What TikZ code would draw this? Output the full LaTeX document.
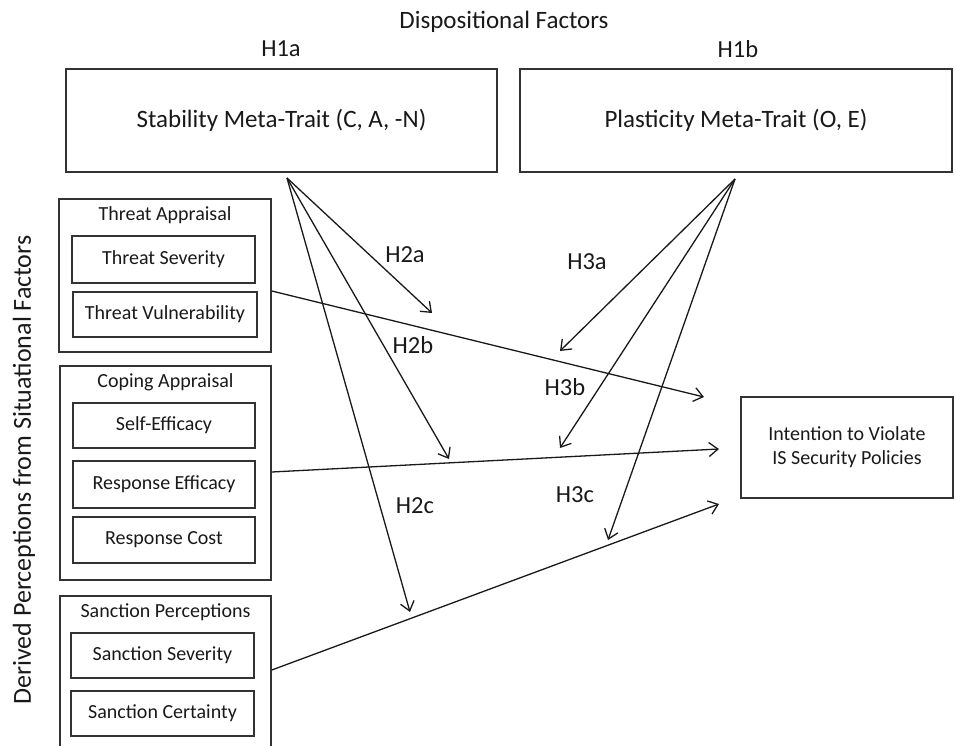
\documentclass[tikz,border=0pt]{standalone}
\usepackage{fontspec}
\setmainfont{Carlito}
\usetikzlibrary{arrows.meta}
\begin{document}
\begin{tikzpicture}[x=1pt,y=-1pt,
  box/.style={draw=black!80,line width=1.6pt,rectangle,inner sep=0pt,anchor=center,text=black!90},
  big/.style={font=\fontsize{25}{29}\selectfont,text=black!90},
  small/.style={font=\fontsize{20}{24}\selectfont,text=black!90},
  conn/.style={draw=black!90,line width=1.3pt,-{Straight Barb[length=9pt,width=14pt,line width=1.3pt]}},
  lbl/.style={font=\fontsize{24.5}{28}\selectfont,inner sep=0pt,text=black!90}
]
\useasboundingbox (0,0) rectangle (956,746);
\clip (0,0) rectangle (956,746);

% top
\node[big] (disp) at (504,22) {Dispositional Factors};
\node[lbl] (h1a) at (281,49) {H1a};
\node[lbl] (h1b) at (738,49) {H1b};
\node[box,big,minimum width=431pt,minimum height=103pt] (stab) at (281.5,120.5) {Stability Meta-Trait (C, A, -N)};
\node[box,big,minimum width=432pt,minimum height=103pt] (plas) at (736,120.5) {Plasticity Meta-Trait (O, E)};

% vertical label
\node[font=\fontsize{26}{30}\selectfont,text=black!90,rotate=90] (vlab) at (24,470) {Derived Perceptions from Situational Factors};

% threat appraisal
\node[box,minimum width=212pt,minimum height=153pt] (thr) at (165,275.5) {};
\node[small] (thrt) at (165,215) {Threat Appraisal};
\node[box,small,minimum width=183pt,minimum height=47pt] (tsev) at (163.5,259.5) {Threat Severity};
\node[box,small,minimum width=184pt,minimum height=45pt] (tvul) at (165,314.5) {Threat Vulnerability};

% coping appraisal
\node[box,minimum width=211pt,minimum height=214pt] (cop) at (165.5,473) {};
\node[small] (copt) at (165.5,382) {Coping Appraisal};
\node[box,small,minimum width=182pt,minimum height=45pt] (seff) at (164,425.5) {Self-Efficacy};
\node[box,small,minimum width=182pt,minimum height=47pt] (reff) at (164,484.5) {Response Efficacy};
\node[box,small,minimum width=182pt,minimum height=46pt] (rcost) at (164,540) {Response Cost};

% sanction perceptions
\node[box,minimum width=211pt,minimum height=164pt] (san) at (165.5,678) {};
\node[small] (sant) at (165.5,612) {Sanction Perceptions};
\node[box,small,minimum width=183pt,minimum height=45pt] (ssev) at (162.5,655.5) {Sanction Severity};
\node[box,small,minimum width=183pt,minimum height=45pt] (scert) at (162.5,713.5) {Sanction Certainty};

% outcome
\node[box,small,align=center,minimum width=212pt,minimum height=101pt] (int) at (847,447.5) {Intention to Violate\\IS Security Policies};

% hypothesis labels
\node[lbl] (h2a) at (405,255) {H2a};
\node[lbl] (h3a) at (587,262) {H3a};
\node[lbl] (h2b) at (413,345) {H2b};
\node[lbl] (h3b) at (565,387) {H3b};
\node[lbl] (h2c) at (415,506) {H2c};
\node[lbl] (h3c) at (575,495) {H3c};

% origins and arrow ends
\coordinate (so) at (287,178);
\coordinate (po) at (735,179);
\coordinate (t2a) at (432,313);
\coordinate (t2b) at (449,459);
\coordinate (t2c) at (410,612);
\coordinate (t3a) at (560,351);
\coordinate (t3b) at (560,448);
\coordinate (t3c) at (608,540);
\coordinate (e1) at (704,397);
\coordinate (e2) at (719,449);
\coordinate (e3) at (719,504);

% main paths
\draw[conn] ([yshift=-15.5pt]thr.east) -- (e1);
\draw[conn] ([yshift=1pt]cop.east) -- (e2);
\draw[conn] ([yshift=8pt]san.east) -- (e3);

% moderation arrows
\draw[conn] (so) -- (t2a);
\draw[conn] (so) -- (t2b);
\draw[conn] (so) -- (t2c);
\draw[conn] (po) -- (t3a);
\draw[conn] (po) -- (t3b);
\draw[conn] (po) -- (t3c);
\end{tikzpicture}
\end{document}
